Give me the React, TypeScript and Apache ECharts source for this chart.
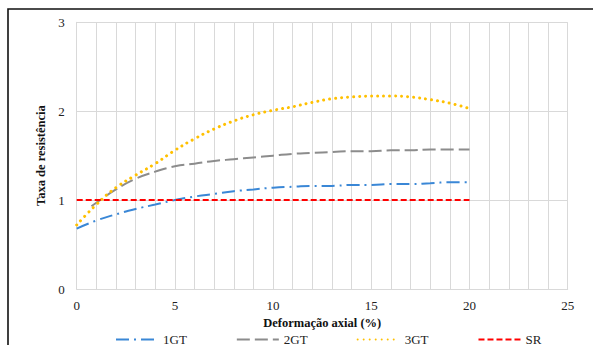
import React, { useEffect, useRef } from "react";
import * as echarts from "echarts";

const xValues = [0, 1, 2, 3, 4, 5, 6, 7, 8, 9, 10, 11, 12, 13, 14, 15, 16, 17, 18, 19, 20];
const gt1 = [0.68, 0.77, 0.84, 0.9, 0.95, 1.0, 1.04, 1.07, 1.1, 1.12, 1.14, 1.15, 1.16, 1.16, 1.17, 1.17, 1.18, 1.18, 1.19, 1.2, 1.2];
const gt2X = [0.75, 1, 2, 3, 4, 5, 6, 7, 8, 9, 10, 11, 12, 13, 14, 15, 16, 17, 18, 19, 20];
const gt2 = [0.93, 0.97, 1.12, 1.24, 1.32, 1.38, 1.41, 1.44, 1.46, 1.48, 1.5, 1.52, 1.53, 1.54, 1.55, 1.55, 1.56, 1.56, 1.57, 1.57, 1.57];
const gt3 = [0.72, 0.95, 1.14, 1.28, 1.41, 1.56, 1.69, 1.8, 1.89, 1.96, 2.01, 2.05, 2.1, 2.14, 2.16, 2.17, 2.17, 2.16, 2.13, 2.09, 2.03];
const srX = [0, 20];
const sr = [1, 1];
const seriesNames = ["1GT", "2GT", "3GT", "SR"];
const xTitle = "Deformação axial (%)";
const yTitle = "Taxa de resistência";

const pair = (xs: number[], ys: number[]) => xs.map((x, i) => [x, ys[i]]);

export default function App() {
  const ref = useRef<HTMLDivElement>(null);
  useEffect(() => {
    document.body.style.margin = "0";
    if (!ref.current) return;
    const chart = echarts.init(ref.current, undefined, { renderer: "svg" });
    const font = "Liberation Serif";
    const gridColor = "#d9d9d9";
    const noSymbol = { color: "rgba(0,0,0,0)", borderWidth: 0 };
    chart.setOption({
      animation: false,
      backgroundColor: "#ffffff",
      textStyle: { fontFamily: font },
      grid: { left: 76.7, right: 25.3, top: 22.3, bottom: 56, containLabel: false },
      graphic: [
        {
          type: "rect",
          shape: { x: 8, y: 9, width: 700, height: 500 },
          style: { fill: "none", stroke: "#111", lineWidth: 1.6 },
          silent: true,
          z: 100,
        },
      ],
      legend: {
        left: 110,
        top: 328,
        itemWidth: 42,
        itemHeight: 14,
        itemGap: 49,
        itemStyle: noSymbol,
        textStyle: { fontFamily: font, fontSize: 13, color: "#222" },
        data: seriesNames,
      },
      xAxis: {
        type: "value",
        min: 0,
        max: 25,
        interval: 5,
        name: xTitle,
        nameLocation: "middle",
        nameGap: 27,
        nameTextStyle: { fontFamily: font, fontSize: 12.5, fontWeight: "bold", color: "#111" },
        axisLine: { show: true, lineStyle: { color: gridColor, width: 1 } },
        axisTick: { show: false },
        axisLabel: { fontFamily: font, fontSize: 13, color: "#222", margin: 10 },
        splitLine: { show: true, lineStyle: { color: gridColor, width: 1 } },
        minorTick: { show: false, splitNumber: 5 },
        minorSplitLine: { show: true, lineStyle: { color: gridColor, width: 1 } },
      },
      yAxis: {
        type: "value",
        min: 0,
        max: 3,
        interval: 1,
        name: yTitle,
        nameLocation: "middle",
        nameGap: 29,
        nameRotate: 90,
        nameTextStyle: { fontFamily: font, fontSize: 12.5, fontWeight: "bold", color: "#111" },
        axisLine: { show: true, lineStyle: { color: gridColor, width: 1 } },
        axisTick: { show: false },
        axisLabel: { fontFamily: font, fontSize: 13, color: "#222", margin: 12 },
        splitLine: { show: true, lineStyle: { color: gridColor, width: 1 } },
      },
      series: [
        {
          name: seriesNames[0],
          type: "line",
          data: pair(xValues, gt1),
          smooth: true,
          symbol: "none",
          lineStyle: { color: "#3A87D6", width: 2, type: [13, 5, 2, 5] },
          itemStyle: { color: "#3A87D6" },
          z: 3,
        },
        {
          name: seriesNames[1],
          type: "line",
          data: pair(gt2X, gt2),
          smooth: true,
          symbol: "none",
          lineStyle: { color: "#8c8c8c", width: 2, type: [13, 5] },
          itemStyle: { color: "#8c8c8c" },
          z: 3,
        },
        {
          name: seriesNames[2],
          type: "line",
          data: pair(xValues, gt3),
          smooth: true,
          symbol: "none",
          lineStyle: { color: "#FFC000", width: 3, type: [0.01, 6], cap: "round" },
          itemStyle: { color: "#FFC000" },
          z: 3,
        },
        {
          name: seriesNames[3],
          type: "line",
          data: pair(srX, sr),
          symbol: "none",
          lineStyle: { color: "#FF0000", width: 2, type: [6, 3] },
          itemStyle: { color: "#FF0000" },
          z: 4,
        },
      ],
    });
    return () => chart.dispose();
  }, []);
  return <div ref={ref} style={{ width: 593, height: 345 }} />;
}
